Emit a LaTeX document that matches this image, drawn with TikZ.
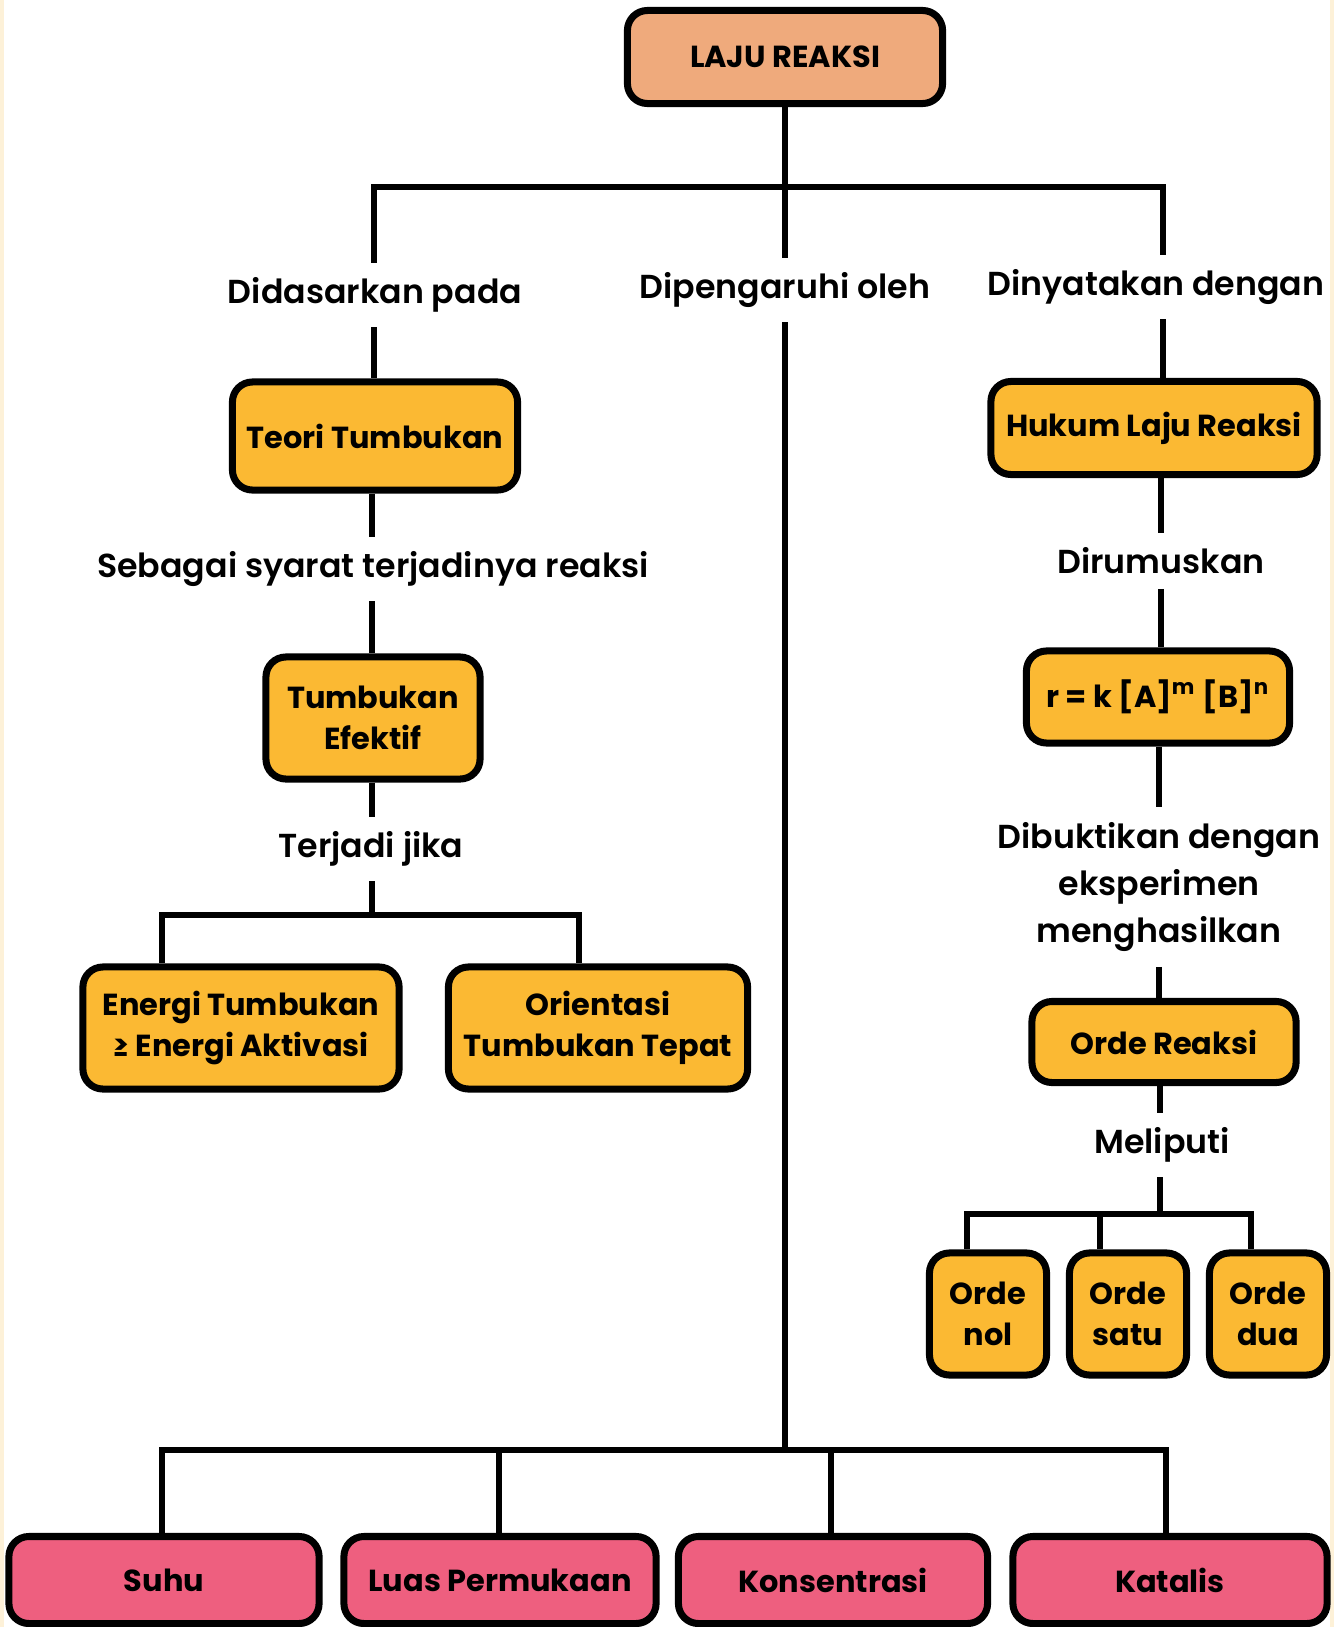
\documentclass[tikz,border=0pt]{standalone}
\usepackage{fontspec}
\setmainfont{Poppins}
\newfontfamily\labelfont{Poppins SemiBold}
\definecolor{peach}{HTML}{EFAA7C}
\definecolor{amber}{HTML}{FBB933}
\definecolor{rose}{HTML}{EE5F7F}
\definecolor{cream}{HTML}{FDF1D8}

\tikzset{
  box/.style={draw=black, line width=2pt, rounded corners=0.2cm, fill=amber,
    align=center, inner sep=0pt, font=\bfseries\fontsize{8.65}{11.8}\selectfont},
  lbl/.style={align=center, inner sep=4pt, font=\labelfont\fontsize{9.45}{13.5}\selectfont},
  link/.style={line width=1.5pt}
}

\begin{document}
\begin{tikzpicture}[x=0.01cm, y=-0.01cm]

    % Fix the page size
    \useasboundingbox (0,0) rectangle (1334,1627);
    \fill[white] (0,0) rectangle (1334,1627);
    \draw[cream, line width=1pt] (2,0) -- (2,1627);
    \draw[cream, line width=1pt] (1332,0) -- (1332,1627);

    % Top box
    \node[box, fill=peach, minimum width=3.15cm, minimum height=0.93cm] (laju) at (785,57) {LAJU REAKSI};

    % Main branch points
    \coordinate (hub) at (785,187);
    \coordinate (kiri) at (374,187);
    \coordinate (kanan) at (1163,187);

    % Labels of the three branches
    \node[lbl] (dasar) at (375,295) {Didasarkan pada};
    \node[lbl] (pengaruh) at (785,290) {Dipengaruhi oleh};
    \node[lbl] (nyata) at (1156,287) {Dinyatakan dengan};

    % Left column
    \node[box, minimum width=2.85cm, minimum height=1.08cm] (teori) at (375,436) {Teori Tumbukan};
    \node[lbl] (syarat) at (373,569) {Sebagai syarat terjadinya reaksi};
    \node[box, minimum width=2.14cm, minimum height=1.22cm] (efektif) at (373,718) {Tumbukan\\Efektif};
    \node[lbl] (jika) at (371,849) {Terjadi jika};
    \coordinate (cabang) at (372,915);
    \coordinate (cE) at (162,915);
    \coordinate (cO) at (579,915);
    \node[box, minimum width=3.16cm, minimum height=1.22cm] (energi) at (241,1028) {Energi Tumbukan\\≥ Energi Aktivasi};
    \node[box, minimum width=2.99cm, minimum height=1.22cm] (orientasi) at (598,1028) {Orientasi\\Tumbukan Tepat};

    % Right column
    \node[box, minimum width=3.26cm, minimum height=0.93cm] (hukum) at (1154,428) {Hukum Laju Reaksi};
    \node[lbl] (rumus) at (1161,561) {Dirumuskan};
    \node[box, minimum width=2.63cm, minimum height=0.92cm] (persamaan) at (1158,697) {r = k [A]\textsuperscript{m} [B]\textsuperscript{n}};
    \node[lbl] (bukti) at (1159,887) {Dibuktikan dengan\\eksperimen\\menghasilkan};
    \node[box, minimum width=2.64cm, minimum height=0.81cm] (orde) at (1164,1042) {Orde Reaksi};
    \node[lbl] (liputi) at (1162,1145) {Meliputi};
    \coordinate (cR) at (1160,1214);
    \coordinate (cN) at (967,1214);
    \coordinate (cS) at (1100,1214);
    \coordinate (cD) at (1251,1214);
    \node[box, minimum width=1.17cm, minimum height=1.22cm] (nol) at (988,1314) {Orde\\nol};
    \node[box, minimum width=1.17cm, minimum height=1.22cm] (satu) at (1128,1314) {Orde\\satu};
    \node[box, minimum width=1.17cm, minimum height=1.22cm] (dua) at (1268,1314) {Orde\\dua};

    % Bottom row
    \coordinate (cB) at (785,1450);
    \coordinate (b1) at (162,1450);
    \coordinate (b2) at (499,1450);
    \coordinate (b3) at (831,1450);
    \coordinate (b4) at (1166,1450);
    \node[box, fill=rose, minimum width=3.10cm, minimum height=0.87cm] (suhu) at (164,1580) {Suhu};
    \node[box, fill=rose, minimum width=3.12cm, minimum height=0.87cm] (luas) at (500,1580) {Luas Permukaan};
    \node[box, fill=rose, minimum width=3.09cm, minimum height=0.87cm] (konsentrasi) at (833,1580) {Konsentrasi};
    \node[box, fill=rose, minimum width=3.14cm, minimum height=0.87cm] (katalis) at (1170,1580) {Katalis};

    % Draw the connectors
    \draw[link] (laju) -- (hub);
    \draw[link] (kiri |- dasar.north) -- (kiri) -- (kanan) -- (kanan |- nyata.north);
    \draw[link] (hub) -- (pengaruh);
    \draw[link] (kiri |- dasar.south) -- (kiri |- teori.north);
    \draw[link] (kanan |- nyata.south) -- (kanan |- hukum.north);

    % Left column connectors
    \draw[link] (cabang |- teori.south) -- (cabang |- syarat.north);
    \draw[link] (cabang |- syarat.south) -- (cabang |- efektif.north);
    \draw[link] (cabang |- efektif.south) -- (cabang |- jika.north);
    \draw[link] (cabang |- jika.south) -- (cabang);
    \draw[link] (cE |- energi.north) -- (cE) -- (cO) -- (cO |- orientasi.north);

    % Right column connectors
    \draw[link] (rumus |- hukum.south) -- (rumus);
    \draw[link] (rumus) -- (rumus |- persamaan.north);
    \draw[link] (bukti |- persamaan.south) -- (bukti);
    \draw[link] (bukti) -- (bukti |- orde.north);
    \draw[link] (cR |- orde.south) -- (cR |- liputi.north);
    \draw[link] (cR |- liputi.south) -- (cR);
    \draw[link] (cN |- nol.north) -- (cN) -- (cD) -- (cD |- dua.north);
    \draw[link] (cS) -- (cS |- satu.north);

    % Bottom connectors
    \draw[link] (pengaruh) -- (cB);
    \draw[link] (b1 |- suhu.north) -- (b1) -- (b4) -- (b4 |- katalis.north);
    \draw[link] (b2) -- (b2 |- luas.north);
    \draw[link] (b3) -- (b3 |- konsentrasi.north);

\end{tikzpicture}
\end{document}
